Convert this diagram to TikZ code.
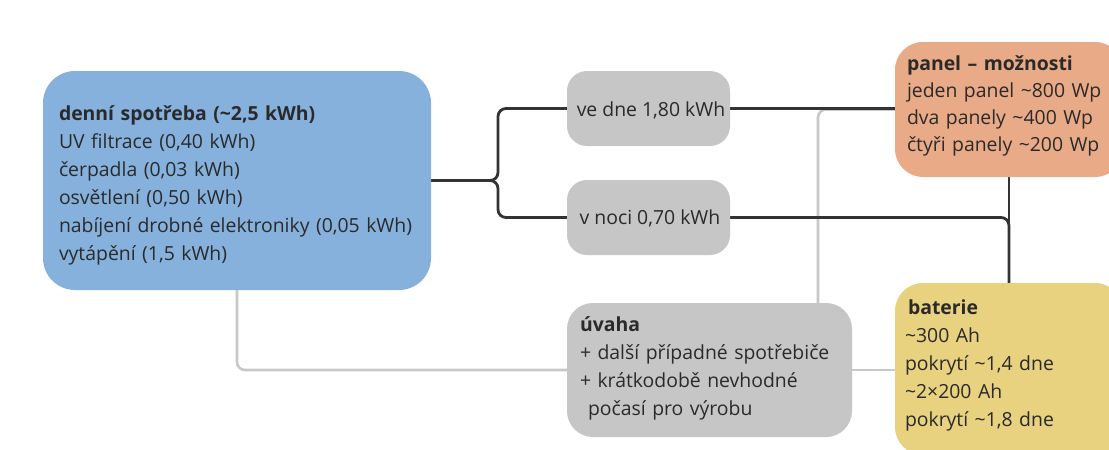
\documentclass[tikz,border=0pt]{standalone}
\usepackage{fontspec}
\setmainfont{Open Sans}
\usetikzlibrary{calc,backgrounds}
\definecolor{cblue}{HTML}{86B1DD}
\definecolor{cgray}{HTML}{C6C6C6}
\definecolor{corange}{HTML}{E9AA88}
\definecolor{cyellow}{HTML}{E8D17F}
\definecolor{ctext}{HTML}{2A2A2A}
\definecolor{cdark}{HTML}{333333}
\definecolor{clight}{HTML}{C8C8C8}
\tikzset{
  boxshape/.style={draw=none,inner sep=0pt,outer sep=0pt},
  txt/.style={inner sep=0pt,outer sep=0pt,align=left,text=ctext,
    font=\fontsize{19.4}{28}\selectfont},
  darkline/.style={draw=cdark,line width=2.8pt,rounded corners=8},
  lightline/.style={draw=clight,line width=2.6pt,rounded corners=8},
}
\begin{document}
\begin{tikzpicture}[x=1pt,y=-1pt]
\useasboundingbox (0,0) rectangle (1109,450);
\clip (0,0) rectangle (1109,450);
% boxes
\node[boxshape,fill=cblue,rounded corners=32,minimum width=388,minimum height=219] (spotreba) at (237,180.5) {};
\node[boxshape,fill=cgray,rounded corners=20,minimum width=163,minimum height=75] (den) at (648.5,108.5) {};
\node[boxshape,fill=cgray,rounded corners=20,minimum width=163,minimum height=75] (noc) at (648.5,217.5) {};
\node[boxshape,fill=cgray,rounded corners=26,minimum width=285,minimum height=134] (uvaha) at (709.5,370) {};
\node[boxshape,fill=corange,rounded corners=28,minimum width=228,minimum height=135] (panel) at (1009,109.5) {};
\node[boxshape,fill=cyellow,rounded corners=28,minimum width=228,minimum height=172] (baterie) at (1009,369) {};
\coordinate (gx) at (818,0);
\coordinate (bx) at (498,0);
% texts
\node[txt,text width=356] (spotreba-t) at (237,185.5) {\textbf{denní spotřeba (\textasciitilde2,5 kWh)}\\UV filtrace (0,40 kWh)\\čerpadla (0,03 kWh)\\osvětlení (0,50 kWh)\\nabíjení drobné elektroniky (0,05 kWh)\\vytápění (1,5 kWh)};
\node[txt] (den-t) at (651,110) {ve dne 1,80 kWh};
\node[txt] (noc-t) at (650,218) {v noci 0,70 kWh};
\node[txt,text width=265] (uvaha-t) at (712.5,368) {\textbf{úvaha}\\+ další případné spotřebiče\\+ krátkodobě nevhodné\\\hspace*{8pt}počasí pro výrobu};
\node[txt,text width=200,font=\fontsize{19.4}{27}\selectfont] (panel-t) at (1007,106) {\textbf{panel – možnosti}\\jeden panel \textasciitilde800 Wp\\dva panely \textasciitilde400 Wp\\čtyři panely \textasciitilde200 Wp};
\node[txt,text width=200] (baterie-t) at (1005,365.5) {\hspace*{3pt}\textbf{baterie}\\\textasciitilde300 Ah\\pokrytí \textasciitilde1,4 dne\\\textasciitilde2×200 Ah\\pokrytí \textasciitilde1,8 dne};
% connectors behind boxes
\begin{pgfonlayer}{background}
\fill[white] (0,0) rectangle (1109,450);
\draw[lightline] (spotreba.south) |- (uvaha.west);
\draw[lightline] (uvaha.east) -- (baterie.west |- uvaha.east);
\draw[lightline] (uvaha.north -| gx) |- ($(panel.west |- den.east)+(0,1)$);
\draw[darkline] (spotreba.east) -| (bx |- den.west) -- (den.west);
\draw[darkline] (spotreba.east) -| (bx |- noc.west) -- (noc.west);
\draw[darkline] (den.east) -- (panel.west |- den.east);
\draw[darkline] (noc.east) -| (baterie.north);
\draw[darkline] (panel.south) -- (baterie.north);
\end{pgfonlayer}
\end{tikzpicture}
\end{document}
